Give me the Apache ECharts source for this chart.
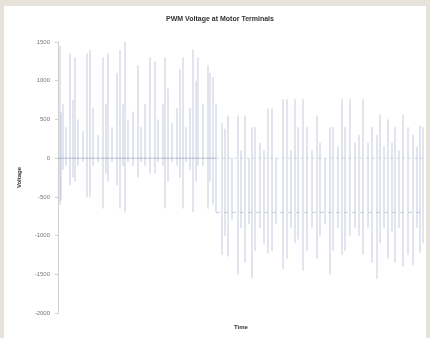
<!DOCTYPE html>
<html>
<head>
<meta charset="utf-8">
<script src="https://cdn.jsdelivr.net/npm/echarts@6/dist/echarts.min.js"></script>
<style>
  html, body { margin: 0; padding: 0; background: #e7e2da; }
  #panel { position: absolute; left: 4px; top: 6px; width: 422px; height: 332px; background: #fff; }
  #chart { position: absolute; left: 0; top: 0; width: 430px; height: 338px; }
</style>
</head>
<body>
<div id="panel"></div>
<div id="chart"></div>
<script>
// Each PWM switching edge: time, lowest and highest voltage reached
const spikeTime = [
  2, 3, 5, 8, 12, 15, 17, 20, 25, 29, 32, 35, 40, 45, 48, 50, 54, 59, 62, 65,
  67, 70, 75, 80, 83, 87, 92, 97, 100, 105, 107, 110, 114, 119, 122, 125, 128, 132, 135, 138,
  140, 145, 150, 152, 155, 158,
  164, 167, 170, 174, 180, 183, 187, 191, 194, 197, 202, 206, 210, 214, 218, 225, 229, 233, 237, 240,
  245, 249, 254, 259, 262, 267, 272, 275, 280, 284, 287, 292, 297, 301, 305, 310, 314, 319, 322, 326,
  330, 334, 337, 341, 345, 350, 355, 359, 362, 365
];
const spikeLow = [
  -600, -550, -150, -100, -350, -250, -300, -100, -50, -500, -500, -100, -50, -650, -200, -300, -50, -350, -650, -100,
  -700, -50, -100, -250, -50, -100, -200, -200, -50, -100, -650, -300, -50, -100, -250, -650, -50, -150, -700, -300,
  -100, -100, -650, -300, -600, -700,
  -1250, -1000, -1270, -800, -1500, -900, -1350, -850, -1550, -1200, -900, -1100, -1230, -1200, -850, -1430, -1300, -900, -1100, -1050,
  -1450, -1200, -900, -1300, -1000, -850, -1500, -1200, -900, -1250, -1200, -1000, -900, -1000, -1250, -900, -1350, -1560, -1100, -900,
  -1300, -950, -1350, -900, -1400, -1250, -1380, -900, -1220, -1100
];
const spikeHigh = [
  1450, 600, 700, 400, 1350, 750, 1300, 500, 350, 1350, 1400, 650, 300, 1300, 700, 1350, 400, 1100, 1400, 700,
  1500, 500, 600, 1200, 400, 700, 1300, 1250, 500, 700, 1300, 900, 450, 650, 1150, 1300, 400, 650, 1400, 1000,
  1300, 700, 1200, 1100, 1050, 700,
  450, 380, 550, 0, 550, 100, 550, 0, 400, 400, 200, 100, 640, 640, 0, 760, 760, 100, 760, 400,
  760, 400, 100, 550, 200, 0, 400, 400, 150, 760, 400, 760, 200, 300, 760, 200, 400, 300, 560, 150,
  500, 200, 400, 100, 560, 400, 300, 150, 420, 400
];
// Levels the trace sits at between edges
const baseFirst = [[0, 0], [158, 0]];
const baseSecondTop = [[158, 0], [366, 0]];
const baseSecondLow = [[158, -700], [366, -700]];
const yTicks = [-2000, -1500, -1000, -500, 0, 500, 1000, 1500];

const spikes = spikeTime.map((t, i) => [t, spikeLow[i], spikeHigh[i]]);
const traceColor = '#8e98bd';

const chart = echarts.init(document.getElementById('chart'));
chart.setOption({
  animation: false,
  backgroundColor: 'transparent',
  title: {
    text: 'PWM Voltage at Motor Terminals',
    left: 215,
    textAlign: 'center',
    top: 11,
    textStyle: { fontFamily: 'Liberation Sans', fontSize: 7, fontWeight: 'bold', color: '#333' }
  },
  grid: { left: 58, right: 6, top: 42, bottom: 25 },
  xAxis: {
    type: 'value',
    min: 0,
    max: 366,
    name: 'Time',
    nameLocation: 'middle',
    nameGap: 11,
    nameTextStyle: { fontFamily: 'Liberation Sans', fontSize: 6, fontWeight: 'bold', color: '#333' },
    axisLine: { show: false },
    axisTick: { show: false },
    axisLabel: { show: false },
    splitLine: { show: false }
  },
  yAxis: {
    type: 'value',
    min: yTicks[0],
    max: yTicks[yTicks.length - 1],
    interval: 500,
    name: 'Voltage',
    nameLocation: 'middle',
    nameGap: 36,
    nameRotate: 90,
    nameTextStyle: { fontFamily: 'Liberation Sans', fontSize: 6, fontWeight: 'bold', color: '#333' },
    axisLine: { show: true, lineStyle: { color: '#cfcfcf', width: 1 } },
    axisTick: { show: true, length: 3, lineStyle: { color: '#cfcfcf' } },
    axisLabel: { fontFamily: 'Liberation Sans', fontSize: 6, color: '#777', margin: 8, formatter: v => String(v) },
    splitLine: { show: false }
  },
  series: [
    {
      type: 'line', data: baseFirst, showSymbol: false,
      lineStyle: { color: traceColor, width: 1, opacity: 0.6 }
    },
    {
      type: 'line', data: baseSecondTop, showSymbol: false,
      lineStyle: { color: traceColor, width: 1, opacity: 0.35, type: [3, 3] }
    },
    {
      type: 'line', data: baseSecondLow, showSymbol: false,
      lineStyle: { color: traceColor, width: 1, opacity: 0.45, type: [4, 4] }
    },
    {
      type: 'custom',
      data: spikes,
      encode: { x: 0, y: [1, 2] },
      renderItem: function (params, api) {
        const lo = api.coord([api.value(0), api.value(1)]);
        const hi = api.coord([api.value(0), api.value(2)]);
        return {
          type: 'line',
          shape: { x1: lo[0], y1: lo[1], x2: hi[0], y2: hi[1] },
          style: { stroke: traceColor, lineWidth: 1, opacity: 0.5 }
        };
      }
    }
  ]
});
</script>
</body>
</html>
